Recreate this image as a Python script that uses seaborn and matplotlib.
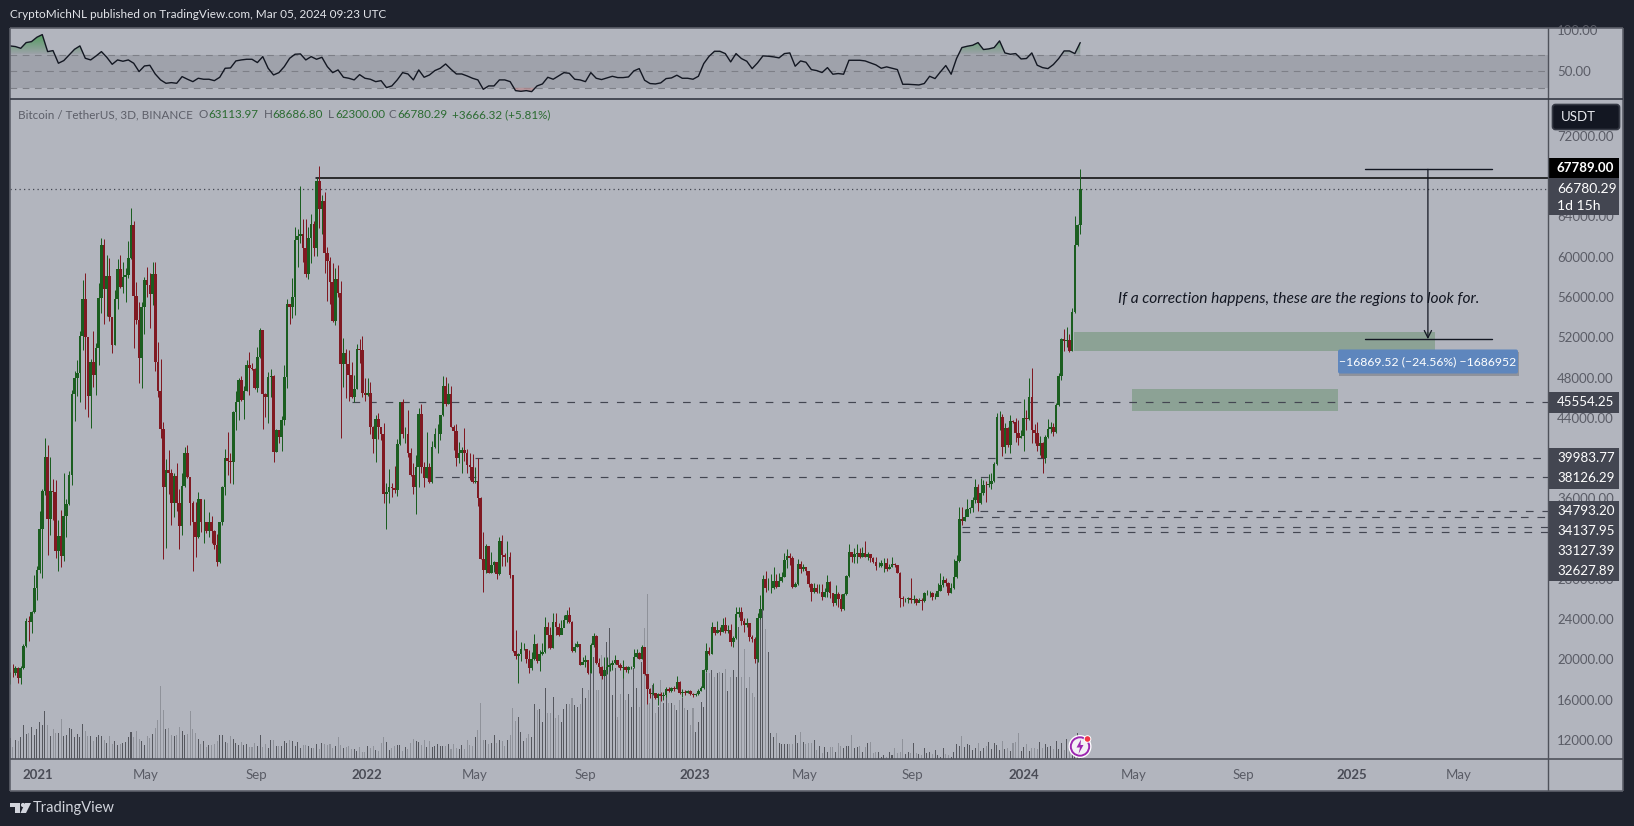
import matplotlib
matplotlib.use('Agg')
import matplotlib.pyplot as plt
import numpy as np
import seaborn as sns
from matplotlib.colors import LinearSegmentedColormap
from matplotlib.patches import Circle, FancyBboxPatch, Polygon, Rectangle
from matplotlib.path import Path

# BTC/USDT 3D candles (open is the previous close)
first_open = 18530
close_px = [
    18688, 18622, 19185, 18191, 19152, 21337, 23853, 23720, 24714, 27065, 28886, 32958, 36733, 40077, 33985, 36733,
    36600, 30806, 32263, 30276, 34250, 35442, 38322, 46337, 47960, 48489, 52132, 55807, 52065, 46172, 49549, 48258,
    50906, 55873, 61171, 56800, 58091, 54052, 51238, 55807, 58787, 57032, 57959, 58158, 59879, 63157, 56138, 53721,
    49979, 54979, 57694, 57197, 56303, 58290, 49549, 46701, 42861, 37166, 38821, 38556, 35576, 38225, 35510, 33292,
    37265, 40477, 38093, 35576, 33623, 32199, 35941, 33689, 33689, 32795, 33689, 32795, 31372, 29716, 33623, 37166,
    39980, 39749, 39649, 44549, 45542, 47761, 45775, 46702, 49251, 48920, 48854, 46999, 50012, 52727, 46337, 46039,
    48092, 48191, 40642, 42795, 42066, 43788, 48092, 55310, 54979, 55972, 61667, 62065, 62263, 60839, 58290, 61833,
    63257, 60906, 67528, 64747, 65541, 60343, 59615, 57529, 53621, 57760, 56436, 49351, 50410, 49351, 48258, 46105,
    46900, 50807, 50741, 46436, 46271, 46436, 43059, 41868, 43854, 43059, 42397, 36404, 36603, 37100, 37000, 36835,
    41404, 45542, 42397, 42397, 40477, 38325, 37166, 39086, 44384, 39152, 37994, 39152, 37662, 41073, 42364, 42397,
    44251, 47165, 45377, 46337, 43125, 42729, 40046, 40543, 40808, 40477, 39318, 39152, 37596, 37729, 36007, 30015,
    28888, 31272, 28623, 29385, 29683, 28490, 31736, 30378, 30146, 30179, 28358, 20840, 20376, 20509, 21005, 21005,
    20045, 19184, 20078, 21502, 19879, 20542, 20740, 23257, 22396, 21138, 23720, 23257, 22429, 23091, 23919, 24415,
    23753, 20807, 21270, 21502, 19482, 19780, 19946, 18687, 21436, 22329, 19615, 19283, 18356, 18953, 19283, 19449,
    19615, 19946, 19449, 19118, 19217, 18953, 19217, 19217, 20210, 20608, 20078, 21204, 18555, 17032, 16568, 16634,
    16138, 16568, 16403, 16502, 17098, 16900, 17131, 17098, 17760, 16634, 16800, 16701, 16833, 16568, 16436, 16568,
    16900, 17165, 18953, 20807, 20542, 23257, 22594, 22925, 22727, 23389, 22826, 22925, 21766, 22131, 24515, 24747,
    23852, 23422, 23654, 22197, 22032, 20012, 24084, 24978, 27958, 27097, 27097, 27097, 27826, 27164, 27826, 28157,
    29879, 30276, 30045, 27230, 27495, 29448, 29018, 29150, 28753, 27495, 26733, 27097, 26733, 26733, 26236, 26733,
    27693, 26568, 25574, 26501, 26005, 25012, 26468, 28290, 30707, 30210, 30441, 30541, 30210, 30541, 30210, 30475,
    30077, 29713, 29316, 29316, 29548, 29614, 28952, 29150, 29481, 29349, 28621, 26071, 26005, 26005, 26071, 25905,
    26005, 25574, 25905, 25839, 26568, 26634, 26634, 26170, 26236, 26833, 27396, 27892, 27561, 26568, 27064, 28223,
    29813, 33918, 33788, 34186, 34915, 35014, 35842, 37100, 35510, 36503, 37365, 37332, 37431, 37762, 39385, 44053,
    44119, 41139, 43026, 41305, 43689, 43622, 42464, 42033, 42198, 43953, 43854, 46039, 42795, 42464, 41205, 41536,
    40046, 42132, 42861, 43125, 42629, 45278, 48158, 51801, 51668, 51735, 50641, 54482, 61171, 63114, 66780.29,
]
high_px = [
    18788, 19549, 19350, 19218, 19350, 21536, 24118, 24316, 24813, 28389, 29283, 34746, 36898, 41964, 41302, 40077,
    37892, 37826, 33852, 34846, 38554, 35938, 38686, 46768, 48622, 49748, 52595, 57694, 58356, 48754, 49814, 52628,
    51403, 57363, 61833, 61734, 60144, 59879, 54052, 56701, 59780, 60144, 59482, 58886, 61568, 64846, 63555, 57462,
    55509, 55509, 58025, 58986, 58389, 59482, 59482, 51536, 49814, 43589, 39914, 40808, 38887, 38556, 39483, 36934,
    38490, 41073, 41304, 38159, 35775, 35676, 36636, 35941, 35941, 33689, 34616, 34285, 32861, 32464, 33689, 37232,
    40907, 42629, 40543, 44715, 46702, 47926, 48191, 47165, 49748, 50576, 49417, 48920, 51072, 52926, 52628, 46436,
    48589, 48854, 48258, 42860, 42795, 44185, 49251, 55807, 55310, 57893, 62925, 62760, 67031, 63753, 63753, 62925,
    64250, 63555, 67793, 69018, 66137, 66402, 60939, 60012, 59350, 58886, 59184, 57595, 51900, 50807, 50741, 49516,
    48258, 51304, 51801, 52132, 47926, 47926, 47529, 43192, 44284, 44450, 43125, 43457, 37497, 38920, 37497, 39219,
    41867, 45542, 45874, 43125, 44781, 40973, 39483, 40311, 45013, 45377, 39649, 42563, 39483, 41702, 42960, 43391,
    44284, 48158, 48092, 47430, 47165, 43291, 43391, 41569, 41073, 42960, 40907, 40543, 40410, 39152, 39980, 36172,
    32663, 31471, 31272, 30708, 29815, 29683, 32133, 32365, 30543, 31769, 30676, 28389, 22925, 20608, 21734, 21668,
    21071, 20939, 20773, 22495, 21601, 20939, 21601, 24184, 23753, 23257, 24581, 24581, 23588, 23919, 24415, 24912,
    25210, 23820, 21668, 21800, 21535, 20277, 20442, 19946, 21601, 22661, 22429, 20111, 19350, 20277, 20277, 19615,
    19946, 20442, 19946, 19615, 19946, 19350, 19350, 19350, 21005, 21071, 20773, 21435, 21270, 18555, 17165, 17628,
    16701, 16701, 16800, 16800, 17231, 17297, 17297, 17363, 18356, 17827, 17032, 16966, 16966, 16966, 16634, 16701,
    17032, 17363, 19085, 21601, 21270, 23753, 23191, 23852, 23191, 24084, 24250, 23422, 23522, 22329, 25177, 25177,
    25177, 24084, 24084, 23654, 22429, 22263, 24647, 26402, 28356, 28819, 28057, 28488, 29217, 28488, 28554, 28720,
    30607, 31004, 30541, 30276, 27727, 29978, 29813, 29448, 29217, 28819, 27627, 27627, 27495, 27495, 27495, 27064,
    28389, 27793, 26568, 27396, 26733, 26501, 26568, 28389, 31468, 30707, 31037, 31468, 31037, 31203, 31733, 30707,
    30375, 30210, 30143, 29713, 29879, 30045, 30045, 29481, 30210, 29614, 29382, 28720, 26336, 26071, 26236, 28057,
    26402, 26071, 26071, 26071, 26733, 26899, 26833, 26733, 26568, 27561, 28554, 28290, 28057, 27727, 27561, 30011,
    30342, 35176, 35113, 34915, 35906, 35180, 36172, 37894, 37397, 37994, 37828, 37762, 38424, 38556, 39649, 44516,
    44682, 44350, 43457, 43125, 44284, 43788, 43953, 43788, 42795, 45841, 44781, 47960, 48920, 43391, 43589, 42198,
    41635, 42298, 43854, 43622, 43523, 45510, 48489, 51900, 52794, 52992, 52330, 54880, 64051, 63257, 68686.80,
]
low_px = [
    17562, 18290, 18456, 17695, 17562, 19019, 21204, 21867, 22661, 24582, 25906, 28621, 28124, 36336, 30376, 32362,
    33852, 30078, 28820, 29184, 29780, 32197, 35342, 37332, 43722, 46172, 45609, 50741, 44881, 44119, 43026, 47099,
    46271, 49251, 54383, 53323, 54118, 53621, 50476, 51238, 54847, 56866, 56436, 55509, 57860, 59747, 50939, 53323,
    47496, 46999, 52330, 56039, 52959, 55211, 48688, 46039, 42033, 30015, 31106, 36437, 33358, 34186, 34749, 30975,
    32365, 37166, 37994, 33358, 28823, 30213, 32034, 32696, 31537, 32530, 32199, 31603, 30975, 29286, 29551, 33358,
    36338, 38325, 37563, 37397, 42795, 43788, 45708, 43920, 46702, 46271, 48754, 46900, 46536, 49913, 42927, 44119,
    43457, 46105, 39649, 40642, 41470, 40742, 43291, 46933, 53323, 53953, 54217, 59018, 61402, 59515, 58025, 57827,
    59350, 60078, 60078, 62892, 62263, 58422, 55641, 55310, 53555, 53224, 56039, 42033, 47099, 45940, 45708, 45940,
    45543, 46867, 49417, 46105, 45708, 46172, 42397, 40543, 39649, 41868, 41802, 35510, 32928, 35576, 36172, 36503,
    36239, 41304, 41967, 41536, 40145, 38225, 36404, 34418, 37100, 38556, 37166, 37994, 37563, 37563, 41040, 40543,
    41801, 44185, 45211, 45377, 43059, 40808, 39218, 39550, 38556, 39748, 38556, 37828, 37497, 37497, 35246, 29948,
    26736, 28623, 28557, 28623, 28722, 28004, 28424, 29286, 29286, 29716, 28093, 20773, 20012, 17628, 19879, 20939,
    19615, 18621, 18952, 19946, 19615, 18886, 20442, 20608, 21104, 21005, 21104, 22429, 22329, 22594, 23422, 23588,
    23654, 20740, 20773, 21270, 19416, 19615, 19283, 18555, 18621, 21270, 19515, 18687, 18025, 18356, 18555, 18886,
    18953, 19549, 19217, 18953, 18158, 18787, 18687, 19019, 19118, 20111, 20012, 20012, 18423, 15575, 16138, 16436,
    16039, 15476, 15906, 15972, 16237, 16800, 16767, 16900, 17032, 16535, 16304, 16469, 16634, 16469, 16304, 16370,
    16502, 16833, 17098, 18787, 20409, 20542, 22396, 22594, 22429, 22760, 22594, 22660, 21337, 21270, 21999, 24250,
    23422, 22760, 23257, 21866, 21766, 19615, 19780, 23985, 24912, 26733, 26899, 26568, 27031, 27064, 27727, 27727,
    28157, 29051, 29382, 27064, 27164, 27396, 28554, 28819, 28389, 27164, 25839, 26634, 26568, 26634, 25905, 26236,
    26236, 26071, 25309, 25375, 25177, 24813, 24912, 26369, 28223, 29713, 29614, 29548, 30045, 30210, 30143, 29879,
    29713, 29614, 28885, 29217, 29217, 28687, 28819, 29018, 29150, 29217, 28555, 25177, 25309, 25740, 25641, 25641,
    25574, 25409, 25740, 24912, 25740, 26369, 26236, 25905, 26005, 26303, 26833, 27230, 27296, 26402, 26568, 27031,
    28057, 29713, 33358, 33788, 34252, 34517, 34682, 35510, 34782, 35444, 36338, 35643, 37100, 36901, 37662, 39318,
    42795, 40211, 40543, 41139, 40543, 43457, 41636, 41304, 41967, 40742, 42795, 43788, 41536, 41470, 40742, 40311,
    38556, 39549, 41967, 42464, 42198, 42530, 45179, 47761, 50674, 51072, 50542, 50641, 54383, 61072, 62300,
]
# relative height of the volume bars
volume = [
    63, 36, 58, 55, 66, 103, 76, 79, 97, 73, 90, 112, 103, 145, 103, 70, 90, 79, 79, 121, 70, 73, 94, 91, 67, 76, 67,
    106, 85, 70, 70, 55, 67, 73, 70, 58, 49, 70, 46, 55, 43, 46, 49, 52, 67, 82, 67, 85, 61, 55, 43, 70, 64, 76, 94,
    118, 220, 148, 91, 94, 73, 70, 73, 97, 85, 73, 76, 145, 91, 79, 61, 46, 55, 37, 43, 43, 46, 55, 73, 73, 52, 49,
    70, 61, 49, 43, 52, 43, 46, 37, 37, 49, 40, 73, 37, 46, 34, 58, 58, 40, 40, 40, 55, 49, 58, 55, 40, 52, 34, 43,
    43, 40, 34, 34, 46, 31, 49, 46, 43, 46, 34, 40, 67, 43, 33, 37, 40, 31, 31, 25, 37, 22, 22, 40, 34, 40, 28, 25,
    49, 67, 52, 28, 34, 40, 43, 43, 25, 37, 31, 49, 61, 55, 52, 43, 58, 37, 55, 37, 40, 46, 40, 40, 40, 46, 31, 46,
    34, 31, 43, 31, 58, 43, 40, 67, 88, 169, 58, 58, 46, 49, 73, 49, 58, 56, 40, 58, 72, 154, 115, 127, 82, 56, 63,
    76, 68, 166, 148, 150, 113, 214, 138, 138, 187, 123, 133, 113, 150, 166, 166, 185, 163, 158, 166, 214, 183, 208,
    280, 308, 208, 208, 313, 258, 352, 394, 193, 273, 128, 196, 248, 178, 196, 156, 273, 213, 158, 291, 394, 496,
    168, 223, 138, 158, 238, 168, 188, 168, 168, 163, 148, 178, 183, 153, 148, 103, 153, 83, 113, 173, 158, 258, 260,
    268, 248, 258, 263, 258, 270, 205, 248, 268, 248, 398, 248, 331, 215, 248, 198, 188, 398, 438, 491, 391, 323, 78,
    66, 78, 50, 46, 46, 46, 46, 46, 73, 48, 81, 53, 46, 48, 48, 58, 28, 40, 20, 36, 23, 36, 38, 23, 48, 40, 33, 40,
    40, 73, 33, 38, 40, 23, 38, 48, 51, 20, 23, 23, 8, 13, 8, 23, 13, 33, 18, 23, 60, 16, 23, 18, 50, 18, 16, 13, 35,
    20, 23, 16, 28, 13, 8, 33, 16, 13, 8, 23, 46, 40, 70, 38, 46, 43, 28, 33, 48, 25, 35, 40, 52, 30, 50, 42, 28, 55,
    30, 35, 25, 50, 52, 78, 25, 38, 45, 25, 33, 35, 30, 52, 35, 45, 36, 40, 30, 55, 32, 48, 28, 60, 40, 35, 30, 78,
    20,
]
# RSI, one reading every second candle
rsi = [
    80.7, 79.9, 77.8, 84.7, 85.9, 91.2, 94.4, 73.8, 75.0, 59.7, 62.9, 69.8, 76.6, 80.7, 65.7, 63.7, 68.5, 73.8, 66.9,
    58.4, 63.7, 62.1, 63.7, 59.7, 49.6, 56.4, 57.2, 46.7, 39.5, 35.4, 36.2, 35.4, 43.5, 40.3, 37.4, 41.5, 40.3, 40.3,
    38.6, 42.7, 53.6, 54.0, 62.5, 63.7, 64.5, 64.5, 60.5, 67.7, 53.6, 45.5, 48.3, 55.6, 65.7, 70.6, 71.0, 63.7, 67.7,
    64.5, 66.9, 55.6, 48.3, 51.6, 42.7, 41.5, 39.5, 45.9, 41.5, 40.3, 37.4, 38.6, 30.2, 32.2, 39.5, 48.3, 46.7, 39.5,
    51.6, 42.7, 45.5, 50.8, 53.6, 58.8, 52.4, 46.7, 46.7, 44.3, 41.5, 39.5, 28.1, 32.2, 32.2, 39.5, 39.5, 37.4, 26.5,
    25.7, 26.5, 25.3, 32.2, 34.6, 42.7, 40.3, 44.3, 48.3, 47.5, 40.3, 39.5, 37.4, 48.3, 41.5,
    39.9, 41.9, 43.9, 42.3, 42.3, 43.1, 50.4, 53.2, 39.1, 35.1, 34.6, 35.9, 41.1, 41.9, 45.2, 41.5, 41.5, 40.3, 43.9,
    59.3, 68.2, 74.2, 74.2, 71.4, 61.3, 71.4, 65.4, 62.1, 53.2, 60.1, 68.6, 68.2, 67.4, 66.2, 71.4, 72.2, 56.1, 62.5,
    60.9, 52.0, 50.8, 48.4, 54.4, 46.4, 47.2, 46.4, 63.3, 63.3, 63.3, 62.5, 60.1, 57.7, 53.6, 55.3, 53.6, 52.0, 34.2,
    34.2, 33.8, 33.4, 35.1, 43.9, 41.1, 49.2, 56.9, 46.4, 65.4, 78.7, 80.3, 81.5, 84.7, 76.3, 77.1, 78.7, 86.8, 72.2,
    70.6, 71.4, 64.9, 65.4, 72.2, 57.3, 54.4, 53.2, 58.1, 65.4, 74.6, 74.6, 71.4, 84.7,
]
level_prices = [45554.25, 39983.77, 38126.29, 34793.20, 34137.95, 33127.39, 32627.89]
level_starts = [127.2, 172.9, 158.0, 360.7, 358.9, 354.0, 354.0]
# 68000, 40000 and 32000 sit fully under the last-price and level tags
price_ticks = [p for p in range(12000, 76000, 4000) if p not in (68000, 40000, 32000)]
time_labels = ['2021', 'May', 'Sep', '2022', 'May', 'Sep', '2023', 'May', 'Sep', '2024', 'May', 'Sep', '2025', 'May']
time_ticks = [10.4, 50.6, 91.7, 132.8, 172.7, 213.8, 254.7, 295.6, 335.7, 376.9, 417.8, 458.8, 498.9, 538.9]

W, H = 1634, 826
BG = '#b2b5be'
DARK = '#1e222d'
INK = '#131722'
GREEN = '#1b5e20'
RED = '#801922'
AXIS_TXT = '#5a5c66'
BOX = '#434651'
LEFT, RIGHT, END = 10, 1548, 1623
TOP, SEP, BASE, BOTTOM = 27.5, 99.3, 759.3, 790.7
FONT = 'Lato'


def rect(l, t, r, b):
    return [l / W, 1 - b / H, (r - l) / W, (b - t) / H]


sns.set_theme(style='dark', rc={'axes.facecolor': BG, 'figure.facecolor': DARK})
plt.rcParams['font.family'] = [FONT, 'DejaVu Sans']

close_px = np.array(close_px, dtype=float)
open_px = np.r_[first_open, close_px[:-1]]
high_px = np.array(high_px, dtype=float)
low_px = np.array(low_px, dtype=float)
idx = np.arange(len(close_px))
up = close_px >= open_px
xmax = (RIGHT - LEFT) / 2.689

fig = plt.figure(figsize=(W / 100, H / 100), dpi=100)

# panel background, also behind the two axis strips
back = fig.add_axes(rect(LEFT, TOP, END, BOTTOM), zorder=0)
back.set_facecolor(BG)
back.set_xticks([])
back.set_yticks([])
for s in back.spines.values():
    s.set_visible(False)

# RSI pane
ax_rsi = fig.add_axes(rect(LEFT, TOP, RIGHT, SEP), zorder=1)
ax_rsi.patch.set_visible(False)
rsi_idx = idx[::2]
rsi = np.array(rsi)
ax_rsi.axhspan(30, 70, color='#9fa2ab', lw=0, zorder=0)
for v in (70, 50, 30):
    ax_rsi.axhline(v, color='#7d7f87', lw=0.8, ls=(0, (6, 5)), zorder=1)
# overbought area fades out towards the 70 line
hot = ax_rsi.fill_between(rsi_idx, 70, rsi, where=rsi > 70, interpolate=True, color='none', lw=0)
fade = LinearSegmentedColormap.from_list('fade', ['#9fa2ab', '#4f9e5c'])
im = ax_rsi.imshow(np.linspace(1, 0, 64).reshape(-1, 1), extent=[0, xmax, 70, 96], aspect='auto', cmap=fade, zorder=2)
im.set_clip_path(Path.make_compound_path(*hot.get_paths()), transform=ax_rsi.transData)
ax_rsi.fill_between(rsi_idx, 30, rsi, where=rsi < 30, interpolate=True, color='#b88a8e', alpha=0.7, lw=0, zorder=2)
sns.lineplot(x=rsi_idx, y=rsi, ax=ax_rsi, color=INK, linewidth=1.0, estimator=None, zorder=3)
ax_rsi.set_xlim(0, xmax)
ax_rsi.set_ylim(16, 103)
ax_rsi.set_xticks([])
ax_rsi.set_yticks([50, 100])
ax_rsi.set_yticklabels(['50.00', '100.00'])
ax_rsi.yaxis.tick_right()
ax_rsi.tick_params(axis='y', length=0, pad=6.5, labelsize=9.5, labelcolor=AXIS_TXT)
ax_rsi.set_xlabel('')
ax_rsi.set_ylabel('')

# volume behind the candles
ax_vol = fig.add_axes(rect(LEFT, SEP, RIGHT, BASE), zorder=1)
ax_vol.patch.set_visible(False)
sns.barplot(x=idx, y=volume, hue=np.where(up, 'up', 'down'), palette={'up': '#55575e', 'down': '#8f929a'},
            dodge=False, native_scale=True, width=0.38, saturation=1, errorbar=None, legend=False,
            linewidth=0, ax=ax_vol, zorder=1)
ax_vol.set_xlim(0, xmax)
ax_vol.set_ylim(0, 1980)
ax_vol.set_xticks([])
ax_vol.set_yticks([])
ax_vol.set_xlabel('')
ax_vol.set_ylabel('')

# price pane
ax = fig.add_axes(rect(LEFT, SEP, RIGHT, BASE), zorder=2)
ax.patch.set_visible(False)
ax.add_patch(Rectangle((395.7, 50668), 134.1, 1858, fc='#8ca295', lw=0, zorder=1))
ax.add_patch(Rectangle((417.3, 44710), 76.6, 2154, fc='#8ca295', lw=0, zorder=1))
ax.plot([0, xmax], [66780.29, 66780.29], color=BOX, lw=0.9, ls=(0, (1, 2.6)), zorder=2)
ax.plot([113.7, xmax], [67789, 67789], color='#050505', lw=1.1, zorder=2)
for p, start in zip(level_prices, level_starts):
    ax.plot([start, xmax], [p, p], color=BOX, lw=0.85, ls=(0, (6.5, 7.5)), zorder=2)

colors = np.where(up, GREEN, RED)
ax.vlines(idx, low_px, high_px, colors=colors, linewidth=0.72, zorder=3)
ax.bar(idx, close_px - open_px, bottom=open_px, width=0.98, color=colors, linewidth=0, zorder=4)

# measure tool
ax.plot([503.8, 551], [68686.8, 68686.8], color=INK, lw=1, zorder=5)
ax.plot([503.8, 551], [51817.28, 51817.28], color=INK, lw=1, zorder=5)
ax.annotate('', xy=(527.3, 51817.28), xytext=(527.3, 68686.8),
            arrowprops=dict(arrowstyle='->', color=INK, lw=0.9, shrinkA=0, shrinkB=0, mutation_scale=13), zorder=5)

ax.set_xlim(0, xmax)
ax.set_ylim(85504 - 99.33 * BASE, 85504 - 99.33 * SEP)
ax.set_yticks(price_ticks)
ax.set_yticklabels([f'{p}.00' for p in price_ticks])
ax.yaxis.tick_right()
ax.tick_params(axis='y', length=0, pad=6.5, labelsize=9.5, labelcolor=AXIS_TXT)
ax.set_xticks(time_ticks)
ax.set_xticklabels(time_labels)
ax.tick_params(axis='x', length=0, pad=7, labelsize=9.5, labelcolor=AXIS_TXT)
for lab in ax.get_xticklabels():
    if lab.get_text().isdigit():
        lab.set_fontweight('bold')
        lab.set_color('#4a4c56')
for a in (ax_rsi, ax_vol, ax):
    a.grid(False)
    for s in a.spines.values():
        s.set_visible(False)

# chrome drawn in pixel coordinates over everything
ov = fig.add_axes([0, 0, 1, 1], zorder=10)
ov.set_xlim(0, W)
ov.set_ylim(H, 0)
ov.axis('off')
ov.patch.set_visible(False)
for xs, ys, c, lw in [
    ([LEFT, END], [TOP, TOP], '#5d606a', 1.2),
    ([LEFT, END], [BOTTOM, BOTTOM], '#5d606a', 1.2),
    ([LEFT, LEFT], [TOP, BOTTOM], '#5d606a', 1.2),
    ([END, END], [TOP, BOTTOM], '#5d606a', 1.2),
    ([RIGHT, RIGHT], [TOP, BOTTOM], '#4f525b', 1.0),
    ([LEFT, END], [SEP, SEP], '#363a45', 1.2),
    ([LEFT, END], [BASE, BASE], '#4f525b', 1.2),
]:
    ov.plot(xs, ys, color=c, lw=lw, solid_capstyle='butt')

ov.text(10, 15, 'CryptoMichNL published on TradingView.com, Mar 05, 2024 09:23 UTC', color='#e3e5ea',
        fontsize=8.5, va='center')
ov.text(18, 115, 'Bitcoin / TetherUS, 3D, BINANCE', color='#5c5e68', fontsize=8.4, va='center')
for x, s, c in [(199, 'O', '#5c5e68'), (208, '63113.97', '#2b6b31'), (264, 'H', '#5c5e68'), (272, '68686.80', '#2b6b31'),
                (327.5, 'L', '#5c5e68'), (335, '62300.00', '#2b6b31'), (389, 'C', '#5c5e68'), (397, '66780.29', '#2b6b31'),
                (452, '+3666.32 (+5.81%)', '#2b6b31')]:
    ov.text(x, 115, s, color=c, fontsize=8.4, va='center')

# USDT button
ov.add_patch(FancyBboxPatch((1552.5, 104.5), 67, 25, boxstyle='round,pad=0,rounding_size=3', fc=INK, ec='#363a45', lw=1.2))
ov.text(1561, 117, 'USDT', color='#e8eaef', fontsize=9.5, va='center')

# price labels on the axis
ov.add_patch(Rectangle((RIGHT, 158), 71.5, 20.3, fc='#000000', lw=0))
ov.text(1557, 168, '67789.00', color='white', fontsize=9.6, fontweight='bold', va='center')
ov.add_patch(Rectangle((RIGHT, 178.3), 71.5, 36.7, fc=BOX, lw=0))
ov.text(1557, 189, '66780.29', color='white', fontsize=10, va='center')
ov.text(1557, 205.5, '1d 15h', color='white', fontsize=10, va='center')
for p, t, b, y in [(level_prices[0], 392, 412.7, 402.5), (level_prices[1], 448, 468, 458), (level_prices[2], 468, 489, 478.5),
                   (level_prices[3], 501, 521, 511), (level_prices[4], 521, 541, 531), (level_prices[5], 541, 561, 551),
                   (level_prices[6], 561, 581, 571)]:
    ov.add_patch(Rectangle((RIGHT, t), 71.5, b - t, fc=BOX, lw=0))
    ov.text(1557, y, f'{p:.2f}', color='white', fontsize=9.6, va='center')

# drawings
ov.text(1299, 299.5, 'If a correction happens, these are the regions to look for.', color=INK, fontsize=11.2,
        style='italic', ha='center', va='center')
ov.add_patch(Rectangle((1339, 352), 180, 24, fc='#8e929c', lw=0))
ov.add_patch(FancyBboxPatch((1338, 349.5), 180, 24, boxstyle='round,pad=0,rounding_size=2', fc='#5e86bd', ec='none'))
ov.text(1428, 361.5, '\u221216869.52 (\u221224.56%) \u22121686952', color='white', fontsize=8.8, ha='center', va='center')

# flash icon on the last bar
ov.add_patch(Circle((1080, 746.5), 11.5, fc='white', ec='none'))
ov.add_patch(Circle((1080, 746.5), 9.2, fc='#f2f0f5', ec='#9c27b0', lw=1.4))
ov.add_patch(Polygon([(1081, 739.5), (1076.5, 747.5), (1080, 747.5), (1078.5, 754), (1083.5, 745), (1080.5, 745)],
                     fc='#9c27b0', lw=0))
ov.add_patch(Circle((1087.5, 739), 3.8, fc='white', ec='none'))
ov.add_patch(Circle((1087.5, 739), 2.8, fc='#f23645', ec='none'))

# footer logo
ov.add_patch(Polygon([(10, 803), (20, 803), (20, 813), (15.5, 813), (15.5, 807), (10, 807)], fc='#d1d4dc', lw=0))
ov.add_patch(Circle((23, 805), 2.1, fc='#d1d4dc', lw=0))
ov.add_patch(Polygon([(25, 803), (31, 803), (26, 813), (20.5, 813)], fc='#d1d4dc', lw=0))
ov.text(33, 808, 'TradingView', color='#d1d4dc', fontsize=10.5, va='center')

fig.savefig('out.png', dpi=100, facecolor=DARK)
